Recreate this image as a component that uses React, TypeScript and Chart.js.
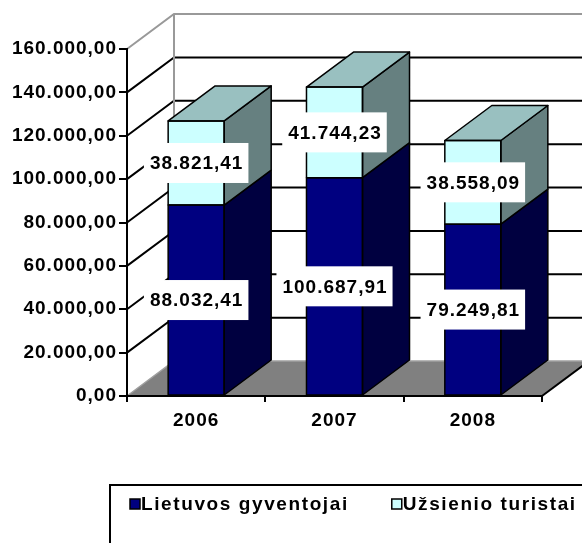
import React, { useEffect, useRef } from 'react';
import { Chart, registerables } from 'chart.js';

Chart.register(...registerables);

// ---- data ----
const categories = ['2006', '2007', '2008'];
const lietuvosGyventojai = [88032.41, 100687.91, 79249.81];
const uzsienioTuristai = [38821.41, 41744.23, 38558.09];
const seriesNames = ['Lietuvos gyventojai', 'Užsienio turistai'];
const yMin = 0;
const yMax = 160000;
const yStep = 20000;

// ---- styles ----
const frontColors = ['#000080', '#CCFFFF'];
const sideColors = ['#000040', '#668080'];
const topColors = ['#000060', '#99C0C0'];
const FONT = '"Liberation Sans", Arial, Helvetica, sans-serif';
const FONT_SIZE = 19;
const DX = 47;
const DY = -35;

function fmt(v: number): string {
  const [i, d] = v.toFixed(2).split('.');
  return i.replace(/\B(?=(\d{3})+(?!\d))/g, '.') + ',' + d;
}

const threeD = {
  id: 'threeD',
  beforeUpdate(chart: any) {
    chart.ctx.letterSpacing = '1px';
  },
  beforeDraw(chart: any) {
    const ctx = chart.ctx as CanvasRenderingContext2D;
    (ctx as any).letterSpacing = '1px';
    const { left, right, top, bottom } = chart.chartArea;
    const W = chart.width;
    const ys = chart.scales.y;
    ctx.save();
    // floor
    ctx.beginPath();
    ctx.moveTo(left, bottom);
    ctx.lineTo(right, bottom);
    ctx.lineTo(right + DX, bottom + DY);
    ctx.lineTo(left + DX, bottom + DY);
    ctx.closePath();
    ctx.fillStyle = '#808080';
    ctx.fill();
    ctx.lineWidth = 1.5;
    ctx.strokeStyle = '#a0a0a0';
    ctx.beginPath();
    ctx.moveTo(left, bottom);
    ctx.lineTo(left + DX, bottom + DY);
    ctx.lineTo(W + 10, bottom + DY);
    ctx.stroke();
    ctx.strokeStyle = '#000';
    ctx.lineWidth = 2;
    ctx.beginPath();
    ctx.moveTo(right, bottom);
    ctx.lineTo(right + DX, bottom + DY);
    ctx.stroke();
    // gridlines on side wall and back wall
    ctx.lineWidth = 2;
    ctx.strokeStyle = '#000';
    for (let v = yMin + yStep; v < yMax; v += yStep) {
      const y = ys.getPixelForValue(v);
      ctx.beginPath();
      ctx.moveTo(left, y);
      ctx.lineTo(left + DX, y + DY);
      ctx.lineTo(W + 10, y + DY);
      ctx.stroke();
    }
    // wall edges
    ctx.strokeStyle = '#999999';
    ctx.lineWidth = 2;
    ctx.beginPath();
    ctx.moveTo(left, top);
    ctx.lineTo(left + DX, top + DY);
    ctx.lineTo(W + 10, top + DY);
    ctx.moveTo(left + DX, top + DY);
    ctx.lineTo(left + DX, bottom + DY);
    ctx.stroke();
    ctx.restore();
  },
  afterDatasetsDraw(chart: any) {
    const ctx = chart.ctx as CanvasRenderingContext2D;
    const metas = chart.getSortedVisibleDatasetMetas();
    const last = metas.length - 1;
    ctx.save();
    ctx.lineWidth = 1.5;
    ctx.strokeStyle = '#000';
    ctx.lineJoin = 'round';
    const poly = (pts: number[][], fill: string) => {
      ctx.beginPath();
      ctx.moveTo(pts[0][0], pts[0][1]);
      for (let k = 1; k < pts.length; k++) ctx.lineTo(pts[k][0], pts[k][1]);
      ctx.closePath();
      ctx.fillStyle = fill;
      ctx.fill();
      ctx.stroke();
    };
    metas.forEach((meta: any, i: number) => {
      meta.data.forEach((el: any) => {
        const { x, y, base, width } = el.getProps(['x', 'y', 'base', 'width'], true);
        const l = x - width / 2;
        const r = x + width / 2;
        const t = Math.min(y, base);
        const b = Math.max(y, base);
        poly([[r, t], [r + DX, t + DY], [r + DX, b + DY], [r, b]], sideColors[i]);
        if (i === last) poly([[l, t], [l + DX, t + DY], [r + DX, t + DY], [r, t]], topColors[i]);
        ctx.strokeRect(l, t, width, b - t);
      });
    });
    ctx.font = `bold ${FONT_SIZE}px ${FONT}`;
    ctx.textAlign = 'center';
    ctx.textBaseline = 'middle';
    metas.forEach((meta: any) => {
      meta.data.forEach((el: any, j: number) => {
        const { x, y, base } = el.getProps(['x', 'y', 'base'], true);
        const text = fmt(chart.data.datasets[meta.index].data[j]);
        const w = ctx.measureText(text).width + 11;
        const h = 40;
        const cy = (y + base) / 2;
        ctx.fillStyle = '#ffffff';
        ctx.fillRect(x - w / 2, cy - h / 2, w, h);
        ctx.fillStyle = '#000';
        ctx.fillText(text, x + 0.5, cy + 1);
      });
    });
    ctx.restore();
  },
  afterDraw(chart: any) {
    const ctx = chart.ctx as CanvasRenderingContext2D;
    ctx.save();
    (ctx as any).letterSpacing = '1.6px';
    const H = chart.height;
    const boxTop = H - 58;
    ctx.lineWidth = 2;
    ctx.strokeStyle = '#000';
    ctx.strokeRect(110, boxTop, chart.width, 100);
    ctx.font = `bold ${FONT_SIZE}px ${FONT}`;
    ctx.textAlign = 'left';
    ctx.textBaseline = 'middle';
    let x = 130;
    const cy = boxTop + 19;
    chart.data.datasets.forEach((ds: any, i: number) => {
      ctx.fillStyle = frontColors[i];
      ctx.fillRect(x, cy - 5, 10, 10);
      ctx.lineWidth = 1.5;
      ctx.strokeRect(x, cy - 5, 10, 10);
      ctx.fillStyle = '#000';
      ctx.fillText(ds.label, x + 11, cy + 1);
      x += 11 + ctx.measureText(ds.label).width + 43;
    });
    ctx.restore();
  },
};

export default function App() {
  const ref = useRef<HTMLCanvasElement | null>(null);
  useEffect(() => {
    document.body.style.margin = '0';
    if (!ref.current) return;
    const tickFont = { family: FONT, size: FONT_SIZE, weight: 'bold' as const };
    const chart = new Chart(ref.current, {
      type: 'bar',
      data: {
        labels: categories,
        datasets: [
          { label: seriesNames[0], data: lietuvosGyventojai, backgroundColor: frontColors[0], borderWidth: 0 },
          { label: seriesNames[1], data: uzsienioTuristai, backgroundColor: frontColors[1], borderWidth: 0 },
        ],
      },
      options: {
        responsive: false,
        animation: false,
        devicePixelRatio: 1,
        layout: { padding: { top: 49, right: 40, bottom: 100, left: 0 } },
        datasets: { bar: { barPercentage: 0.405, categoryPercentage: 1 } },
        plugins: { legend: { display: false }, tooltip: { enabled: false } },
        scales: {
          x: {
            stacked: true,
            offset: true,
            grid: { offset: true, drawOnChartArea: false, drawTicks: true, tickLength: 6, color: '#000', lineWidth: 2 },
            border: { display: true, color: '#000', width: 2 },
            ticks: { font: tickFont, color: '#000', padding: 7, maxRotation: 0 },
            afterFit: (s: any) => { s.height = 47; },
          },
          y: {
            stacked: true,
            min: yMin,
            max: yMax,
            grid: { drawOnChartArea: false, drawTicks: true, tickLength: 8, color: '#000', lineWidth: 2 },
            border: { display: true, color: '#000', width: 2 },
            ticks: { stepSize: yStep, font: tickFont, color: '#000', padding: 2, callback: (v: any) => fmt(Number(v)) },
            afterFit: (s: any) => { s.width = 127; },
          },
        },
      },
      plugins: [threeD],
    });
    return () => chart.destroy();
  }, []);
  return (
    <div style={{ width: 582, height: 543 }}>
      <canvas ref={ref} width={582} height={543} style={{ display: 'block' }} />
    </div>
  );
}
